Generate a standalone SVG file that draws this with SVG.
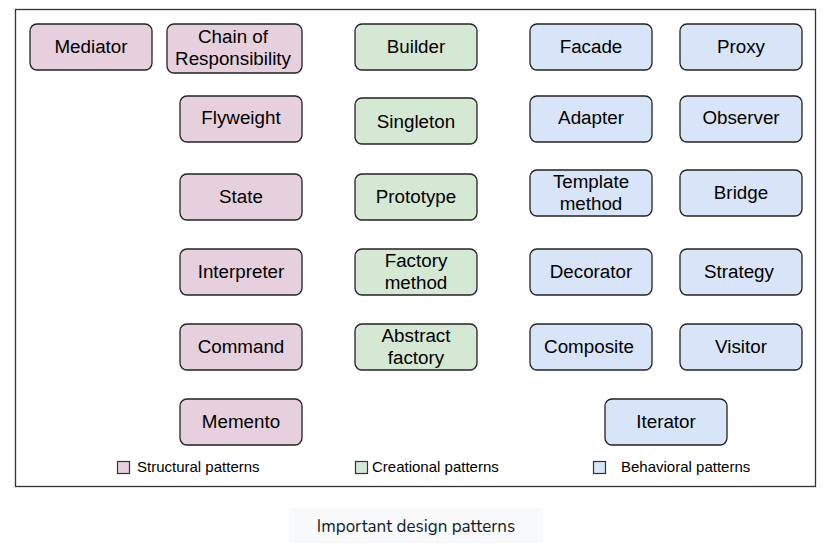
<svg xmlns="http://www.w3.org/2000/svg" width="826" height="550" viewBox="0 0 826 550">
<style>
.n rect{stroke:#222;stroke-width:1.3}
.s rect{fill:#e6d0de}.c rect{fill:#d5e8d4}.b rect{fill:#d8e4f8}
.n text{font-family:"Liberation Sans",Arial,sans-serif;font-size:18.8px;fill:#000;text-anchor:middle}
.lg{font-family:"Liberation Sans",Arial,sans-serif;font-size:15px;fill:#000}
.sw{stroke:#333;stroke-width:1.2}
</style>
<rect width="826" height="550" fill="#fff"/>
<rect x="15.5" y="9.5" width="800" height="477" fill="#fff" stroke="#333" stroke-width="1.3"/>
<g id="mediator" class="n s"><rect x="30" y="24" width="122" height="46" rx="7"/><text x="91" y="53">Mediator</text></g>
<g id="chain" class="n s"><rect x="167" y="24" width="135" height="49" rx="7"/><text x="233" y="43">Chain of</text><text x="233" y="65">Responsibility</text></g>
<g id="builder" class="n c"><rect x="355" y="24" width="122" height="46" rx="7"/><text x="416" y="53">Builder</text></g>
<g id="facade" class="n b"><rect x="530" y="24" width="122" height="46" rx="7"/><text x="591" y="53">Facade</text></g>
<g id="proxy" class="n b"><rect x="680" y="24" width="122" height="46" rx="7"/><text x="741" y="53">Proxy</text></g>
<g id="flyweight" class="n s"><rect x="180" y="96" width="122" height="46" rx="7"/><text x="241" y="124">Flyweight</text></g>
<g id="singleton" class="n c"><rect x="355" y="98" width="122" height="46" rx="7"/><text x="416" y="128">Singleton</text></g>
<g id="adapter" class="n b"><rect x="530" y="96" width="122" height="46" rx="7"/><text x="591" y="124">Adapter</text></g>
<g id="observer" class="n b"><rect x="680" y="96" width="122" height="46" rx="7"/><text x="741" y="124">Observer</text></g>
<g id="state" class="n s"><rect x="180" y="174" width="122" height="46" rx="7"/><text x="241" y="203">State</text></g>
<g id="prototype" class="n c"><rect x="355" y="174" width="122" height="46" rx="7"/><text x="416" y="203">Prototype</text></g>
<g id="template" class="n b"><rect x="530" y="170" width="122" height="46" rx="7"/><text x="591" y="188">Template</text><text x="591" y="210">method</text></g>
<g id="bridge" class="n b"><rect x="680" y="170" width="122" height="46" rx="7"/><text x="741" y="199">Bridge</text></g>
<g id="interpreter" class="n s"><rect x="180" y="249" width="122" height="46" rx="7"/><text x="241" y="278">Interpreter</text></g>
<g id="factory" class="n c"><rect x="355" y="249" width="122" height="46" rx="7"/><text x="416" y="267">Factory</text><text x="416" y="289">method</text></g>
<g id="decorator" class="n b"><rect x="530" y="249" width="122" height="46" rx="7"/><text x="591" y="278">Decorator</text></g>
<g id="strategy" class="n b"><rect x="680" y="249" width="122" height="46" rx="7"/><text x="739" y="278">Strategy</text></g>
<g id="command" class="n s"><rect x="180" y="324" width="122" height="46" rx="7"/><text x="241" y="353">Command</text></g>
<g id="abstract" class="n c"><rect x="355" y="324" width="122" height="46" rx="7"/><text x="416" y="342">Abstract</text><text x="416" y="364">factory</text></g>
<g id="composite" class="n b"><rect x="530" y="324" width="122" height="46" rx="7"/><text x="589" y="353">Composite</text></g>
<g id="visitor" class="n b"><rect x="680" y="324" width="122" height="46" rx="7"/><text x="741" y="353">Visitor</text></g>
<g id="memento" class="n s"><rect x="180" y="399" width="122" height="46" rx="7"/><text x="241" y="428">Memento</text></g>
<g id="iterator" class="n b"><rect x="605" y="399" width="122" height="46" rx="7"/><text x="666" y="428">Iterator</text></g>
<g id="connectors"></g>
<g id="legend">
<rect class="sw" x="117.5" y="461.5" width="12" height="12" fill="#e6d0de"/><text class="lg" x="137" y="472">Structural patterns</text>
<rect class="sw" x="355.5" y="461.5" width="12" height="12" fill="#d5e8d4"/><text class="lg" x="372" y="472">Creational patterns</text>
<rect class="sw" x="593.5" y="461.5" width="12" height="12" fill="#d8e4f8"/><text class="lg" x="621" y="472">Behavioral patterns</text>
</g>
<g id="caption">
<rect x="289" y="508" width="254" height="35" rx="4" fill="#f8f9fb"/>
<text x="416" y="532" font-family="Nunito,'Open Sans',sans-serif" font-size="17" fill="#111827" text-anchor="middle">Important design patterns</text>
</g>
</svg>
